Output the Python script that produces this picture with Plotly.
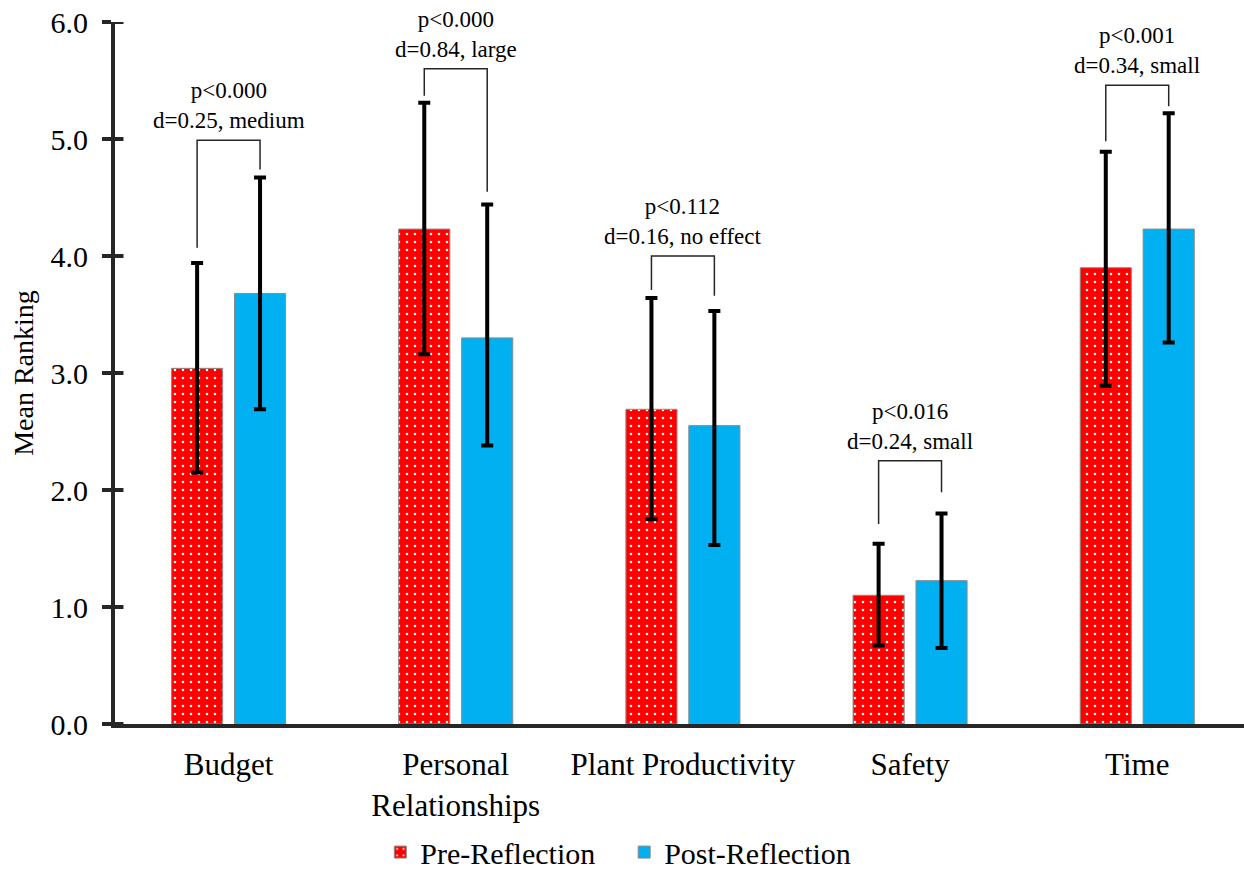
import plotly.graph_objects as go

categories = ["Budget", "Personal<br>Relationships", "Plant Productivity", "Safety", "Time"]
pre_mean = [3.04, 4.23, 2.69, 1.10, 3.90]
pre_err_plus = [0.90, 1.08, 0.95, 0.44, 0.99]
pre_err_minus = [0.89, 1.07, 0.94, 0.43, 1.01]
post_mean = [3.68, 3.30, 2.55, 1.225, 4.23]
post_err_plus = [0.99, 1.14, 0.98, 0.575, 0.99]
post_err_minus = [0.99, 0.92, 1.02, 0.575, 0.97]

p_labels = ["p<0.000", "p<0.000", "p<0.112", "p<0.016", "p<0.001"]
d_labels = ["d=0.25, medium", "d=0.84, large", "d=0.16, no effect", "d=0.24, small", "d=0.34, small"]
bracket_top = [4.99, 5.60, 4.00, 2.25, 5.46]
bracket_left_end = [4.07, 5.37, 3.71, 1.71, 4.98]
bracket_right_end = [4.74, 4.55, 3.66, 1.98, 5.28]

yticks = [0, 1, 2, 3, 4, 5, 6]

xpos = list(range(len(categories)))
FONT = "Liberation Serif, Times New Roman, serif"
BAR_W = 0.225
RED_OFF = -0.251
BLUE_OFF = 0.026
red_c = RED_OFF + BAR_W / 2
blue_c = BLUE_OFF + BAR_W / 2

fig = go.Figure()
fig.add_trace(go.Bar(
    x=xpos, y=pre_mean, name="Pre-Reflection", legend="legend",
    width=BAR_W, offset=RED_OFF,
    marker=dict(color="#FF0000", line=dict(color="#8a8a8a", width=1),
                pattern=dict(shape=".", fgcolor="#FFFFFF", bgcolor="#FF0000",
                             size=8, solidity=0.08, fillmode="replace")),
    error_y=dict(type="data", symmetric=False, array=pre_err_plus,
                 arrayminus=pre_err_minus, color="#000000", thickness=4, width=6),
))
fig.add_trace(go.Bar(
    x=xpos, y=post_mean, name="Post-Reflection", legend="legend2",
    width=BAR_W, offset=BLUE_OFF,
    marker=dict(color="#00B0F0", line=dict(color="#8a8a8a", width=1)),
    error_y=dict(type="data", symmetric=False, array=post_err_plus,
                 arrayminus=post_err_minus, color="#000000", thickness=4, width=6),
))

for i in xpos:
    xl = i + red_c
    xr = i + blue_c
    fig.add_shape(type="path",
                  path=f"M {xl},{bracket_left_end[i]} L {xl},{bracket_top[i]} L {xr},{bracket_top[i]} L {xr},{bracket_right_end[i]}",
                  xref="x", yref="y", line=dict(color="#262626", width=1.5))
    fig.add_annotation(x=i, y=bracket_top[i], xref="x", yref="y",
                       text=f"{p_labels[i]}<br>{d_labels[i]}", showarrow=False,
                       yanchor="bottom", yshift=5,
                       font=dict(family=FONT, size=23, color="#000000"))

# inner half of the crossing y-axis tick marks
for v in yticks:
    fig.add_shape(type="line", xref="paper", yref="y", x0=0, x1=0.0075, y0=v, y1=v,
                  line=dict(color="#262626", width=4), layer="above")

legend_common = dict(orientation="h", yanchor="middle", y=-0.1825, xanchor="left",
                     font=dict(family=FONT, size=30, color="#000000"),
                     itemwidth=30, bgcolor="rgba(0,0,0,0)")

fig.update_layout(
    width=1244, height=869,
    margin=dict(l=115, r=0, t=22, b=145, autoexpand=False),
    plot_bgcolor="white", paper_bgcolor="white",
    barmode="overlay",
    font=dict(family=FONT, size=30, color="#000000"),
    showlegend=True,
    legend=dict(x=0.235, **legend_common),
    legend2=dict(x=0.451, **legend_common),
    xaxis=dict(range=[-0.5, 4.47], tickmode="array", tickvals=xpos, ticktext=categories,
               showline=True, linecolor="#262626", linewidth=4, ticks="",
               showgrid=False, zeroline=False, ticklabelstandoff=10, automargin=False,
               tickfont=dict(family=FONT, size=31, color="#000000")),
    yaxis=dict(range=[0, 6], tickmode="array", tickvals=yticks,
               ticktext=[f"{v:.1f}" for v in yticks],
               showline=True, linecolor="#262626", linewidth=4,
               ticks="outside", ticklen=9, tickwidth=4, tickcolor="#262626",
               showgrid=False, zeroline=False, ticklabelstandoff=8, automargin=False,
               ticklabeloverflow="allow",
               title=dict(text="Mean Ranking", font=dict(family=FONT, size=28, color="#000000"), standoff=10),
               tickfont=dict(family=FONT, size=30, color="#000000")),
)

fig.write_html("out.html", config={"displayModeBar": False},
               post_script="document.body.style.margin='0px';")
